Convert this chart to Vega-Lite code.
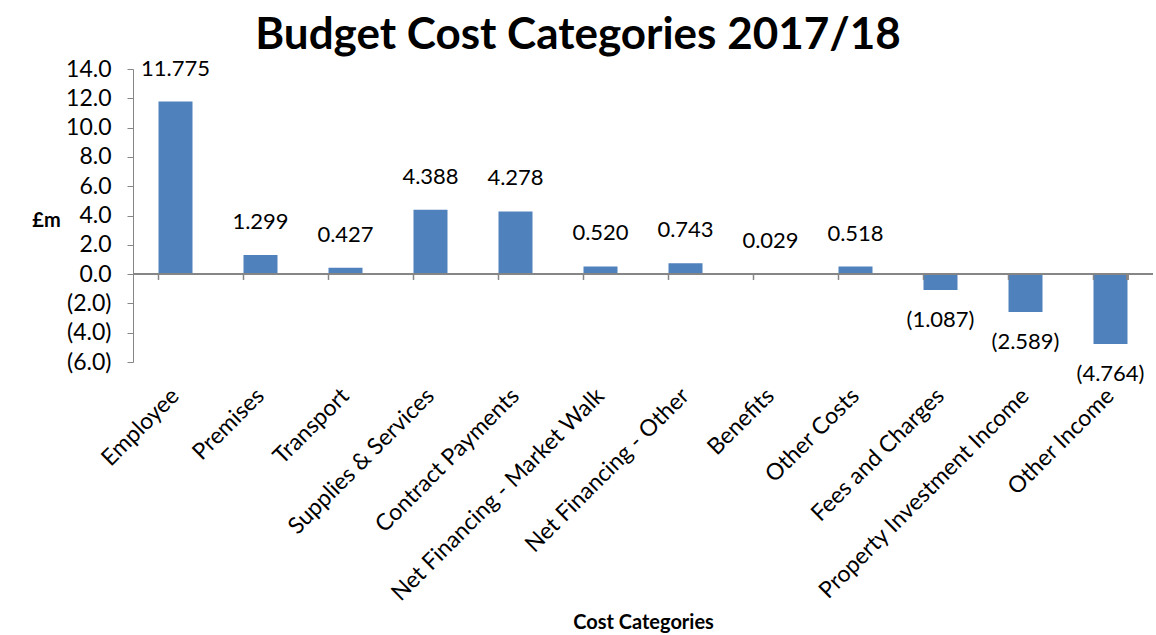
{
  "$schema": "https://vega.github.io/schema/vega-lite/v6.json",
  "autosize": {"type": "none"},
  "padding": {"left": 133, "top": 69, "right": 3, "bottom": 273},
  "width": 1020,
  "height": 293,
  "background": "white",
  "config": {
    "font": "Lato",
    "view": {"stroke": null},
    "axisY": {"labelOverlap": false}
  },
  "title": {
    "text": "Budget Cost Categories 2017/18",
    "fontSize": 44,
    "fontWeight": "bold",
    "font": "Lato",
    "color": "black",
    "anchor": "middle",
    "dx": -65,
    "offset": 0
  },
  "data": {
    "values": [
      {"category": "Employee", "value": 11.775},
      {"category": "Premises", "value": 1.299},
      {"category": "Transport", "value": 0.427},
      {"category": "Supplies & Services", "value": 4.388},
      {"category": "Contract Payments", "value": 4.278},
      {"category": "Net Financing - Market Walk", "value": 0.520},
      {"category": "Net Financing - Other", "value": 0.743},
      {"category": "Benefits", "value": 0.029},
      {"category": "Other Costs", "value": 0.518},
      {"category": "Fees and Charges", "value": -1.087},
      {"category": "Property Investment Income", "value": -2.589},
      {"category": "Other Income", "value": -4.764}
    ]
  },
  "encoding": {
    "x": {
      "field": "category",
      "type": "nominal",
      "sort": null,
      "scale": {"paddingInner": 0.6, "paddingOuter": 0.3},
      "axis": {
        "title": "Cost Categories",
        "titleFontSize": 20,
        "titleFontWeight": "bold",
        "titleColor": "black",
        "titleBaseline": "middle",
        "titleY": 260,
        "labelAngle": -45,
        "labelAlign": "right",
        "labelBaseline": "middle",
        "labelFontSize": 23,
        "labelColor": "black",
        "labelPadding": 30,
        "labelLimit": 400,
        "labelOverlap": false,
        "domain": false,
        "ticks": false
      }
    },
    "y": {
      "field": "value",
      "type": "quantitative",
      "scale": {"domain": [-6, 14], "nice": false, "zero": false},
      "axis": {
        "values": [-6, -4, -2, 0, 2, 4, 6, 8, 10, 12, 14],
        "format": "(.1f",
        "grid": false,
        "labelOverlap": false,
        "labelBound": false,
        "domainColor": "#868686",
        "tickColor": "#868686",
        "tickSize": 6,
        "labelFontSize": 23,
        "labelColor": "black",
        "labelPadding": 16,
        "title": "£m",
        "titleAngle": 0,
        "titleFontSize": 20,
        "titleFontWeight": "bold",
        "titleColor": "black",
        "titleAlign": "center",
        "titleBaseline": "middle",
        "titleX": -87,
        "titleY": 151
      }
    }
  },
  "layer": [
    {
      "mark": {"type": "bar", "color": "#4F81BD"}
    },
    {
      "mark": {"type": "rule", "color": "#868686", "strokeWidth": 1.5},
      "encoding": {"x": null, "y": {"datum": 0}}
    },
    {
      "mark": {"type": "rule", "color": "#868686", "strokeWidth": 1.5},
      "encoding": {
        "x": {"field": "category", "type": "nominal", "sort": null, "bandPosition": 0},
        "y": {"datum": 0},
        "y2": {"datum": -0.4}
      }
    },
    {
      "mark": {"type": "rule", "color": "#868686", "strokeWidth": 1.5},
      "encoding": {
        "x": {"datum": "Other Income", "bandPosition": 1},
        "y": {"datum": 0},
        "y2": {"datum": -0.4}
      }
    },
    {
      "transform": [{"filter": "datum.value >= 0"}],
      "mark": {"type": "text", "baseline": "middle", "dy": -33, "fontSize": 22, "color": "black"},
      "encoding": {
        "text": {"field": "value", "type": "quantitative", "format": "(.3f"}
      }
    },
    {
      "transform": [{"filter": "datum.value < 0"}],
      "mark": {"type": "text", "baseline": "middle", "dy": 30, "fontSize": 22, "color": "black"},
      "encoding": {
        "text": {"field": "value", "type": "quantitative", "format": "(.3f"}
      }
    }
  ]
}
